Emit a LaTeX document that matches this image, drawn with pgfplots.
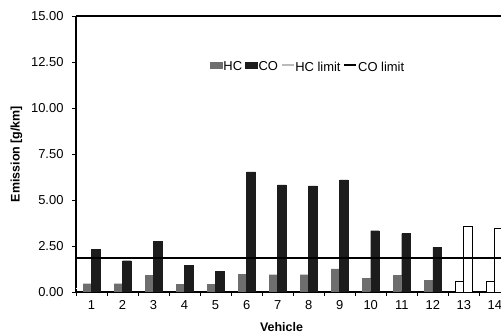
\documentclass[border=0pt]{standalone}
\usepackage{fontspec}
\setmainfont{Liberation Sans}
\usepackage{pgfplots}
\pgfplotsset{compat=1.18}
\definecolor{hcgray}{HTML}{6E6E6E}
\definecolor{coblack}{HTML}{1C1C1C}
\definecolor{limgray}{HTML}{BBBBBB}
\begin{document}
\begin{tikzpicture}
\useasboundingbox (0,0) rectangle (501bp,335bp);
\begin{axis}[
  at={(76bp,43bp)}, anchor=south west,
  scale only axis, width=425bp, height=276bp,
  xmin=0.5, xmax=14.2, ymin=0, ymax=15,
  axis x line*=bottom, axis y line*=left,
  axis line style={line width=1.3bp, black},
  tick align=outside,
  tick style={black, line width=0.8bp},
  /pgf/number format/assume math mode=true,
  ticklabel style={font=\fontsize{13}{15}\selectfont},
  ytick={0,2.5,...,15},
  major tick length=4bp,
  yticklabel style={xshift=-5bp, /pgf/number format/.cd, fixed, fixed zerofill, precision=2},
  xtick={0.5,1.5,...,13.5},
  xticklabels={},
  extra x ticks={1,2,...,14},
  extra x tick style={major tick length=0pt, xticklabel style={yshift=-5bp}},
  xlabel={\bfseries Vehicle},
  ylabel={\bfseries Emission [g/km]},
  xlabel style={yshift=-2bp, xshift=-7bp},
  ylabel style={yshift=2bp},
  label style={font=\fontsize{12.5}{14}\selectfont},
  legend style={at={(0.545,0.815)}, anchor=center, draw=none, fill=none,
    legend columns=-1, font=\fontsize{13}{15}\selectfont,
    nodes={inner sep=1bp},
    /tikz/every even column/.append style={column sep=2bp},
    /tikz/every odd column/.append style={column sep=0bp}},
]
% HC limit (white line)
\addplot[white, line width=1.3bp, forget plot] coordinates {(0.5,0.2) (14.2,0.2)};
% HC
\addplot[ybar, bar width=8.5bp, bar shift=-4.25bp, fill=hcgray, draw=hcgray, forget plot] coordinates {
(1,0.45) (2,0.45) (3,0.92) (4,0.40) (5,0.43) (6,0.95) (7,0.94) (8,0.94) (9,1.26) (10,0.75) (11,0.90) (12,0.62)};
% CO
\addplot[ybar, bar width=8.5bp, bar shift=4.25bp, fill=coblack, draw=coblack, forget plot] coordinates {
(1,2.33) (2,1.70) (3,2.75) (4,1.43) (5,1.14) (6,6.53) (7,5.82) (8,5.77) (9,6.10) (10,3.33) (11,3.17) (12,2.42)};
% hollow HC / CO
\addplot[ybar, bar width=8.5bp, bar shift=-4.25bp, fill=white, draw=black, line width=0.8bp, forget plot] coordinates {(13,0.58) (14,0.58)};
\addplot[ybar, bar width=8.5bp, bar shift=4.25bp, fill=white, draw=black, line width=0.8bp, forget plot] coordinates {(13,3.55) (14,3.47)};
% CO limit
\addplot[black, line width=1.6bp, forget plot] coordinates {(0.5,1.86) (14.2,1.86)};
\draw[line width=1.3bp] (rel axis cs:0,1) -- (rel axis cs:1,1);
% legend
\addlegendimage{legend image code/.code={\fill[hcgray] (0bp,-1bp) rectangle (12bp,5bp);}}
\addlegendentry{HC}
\addlegendimage{legend image code/.code={\fill[coblack] (0bp,-1bp) rectangle (12bp,5bp);}}
\addlegendentry{CO}
\addlegendimage{legend image code/.code={\draw[limgray, line width=1.3bp] (0bp,2bp) -- (12bp,2bp);}}
\addlegendentry{HC limit}
\addlegendimage{legend image code/.code={\draw[black, line width=1.6bp] (0bp,2bp) -- (12bp,2bp);}}
\addlegendentry{CO limit}
\end{axis}
\end{tikzpicture}
\end{document}
